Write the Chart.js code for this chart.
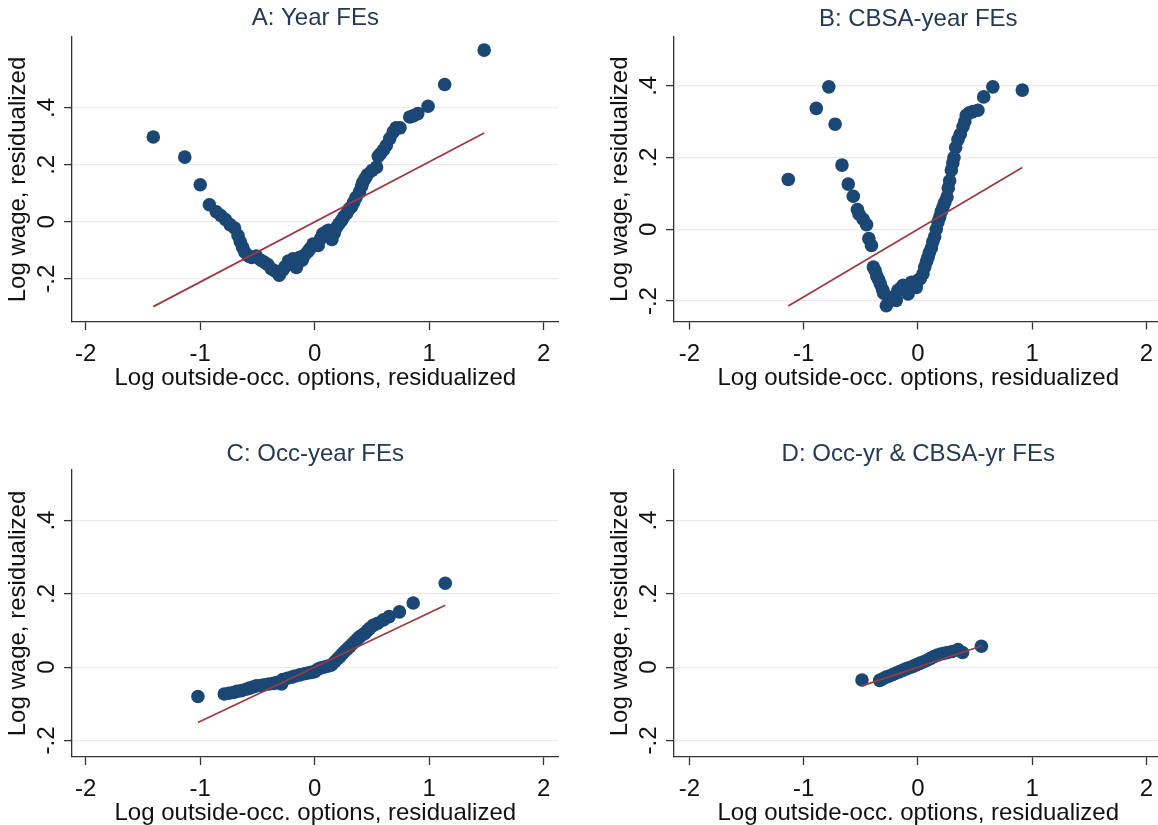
<!DOCTYPE html>
<html><head><meta charset="utf-8">
<script src="https://cdn.jsdelivr.net/npm/chart.js@4.4.1/dist/chart.umd.min.js"></script>
<style>
html,body{margin:0;padding:0;background:#fff;width:1158px;height:825px;overflow:hidden;position:relative}
canvas{position:absolute}
</style></head><body>
<canvas id="cA" width="600" height="405" style="left:0;top:0"></canvas>
<canvas id="cB" width="600" height="405" style="left:600px;top:0"></canvas>
<canvas id="cC" width="600" height="420" style="left:0;top:420px"></canvas>
<canvas id="cD" width="600" height="420" style="left:600px;top:420px"></canvas>
<script>
// ---- text ----
const panelTitles = ['A: Year FEs', 'B: CBSA-year FEs', 'C: Occ-year FEs', 'D: Occ-yr & CBSA-yr FEs'];
const xAxisTitle = 'Log outside-occ. options, residualized';
const yAxisTitle = 'Log wage, residualized';
const xTickValues = [-2, -1, 0, 1, 2];
const xTickLabels = ['-2', '-1', '0', '1', '2'];
const yTickValues = [-0.2, 0, 0.2, 0.4];
const yTickLabels = ['-.2', '0', '.2', '.4'];

// ---- Panel A: Year FEs ----
const aX = [-1.41,-1.135,-1.00,-0.92,-0.86,-0.82,-0.78,-0.74,-0.70,-0.67,-0.65,-0.63,-0.61,-0.58,-0.55,-0.51,-0.47,-0.44,-0.41,-0.38,-0.35,-0.31,-0.28,-0.26,-0.23,-0.21,-0.19,-0.16,-0.13,-0.11,-0.09,-0.06,-0.04,-0.015,0.03,0.05,0.07,0.10,0.12,0.15,0.17,0.19,0.21,0.235,0.255,0.28,0.30,0.32,0.34,0.36,0.39,0.41,0.42,0.44,0.46,0.50,0.54,0.555,0.575,0.60,0.625,0.655,0.685,0.71,0.745,0.83,0.86,0.90,0.99,1.135,1.48];
const aY = [0.298,0.227,0.130,0.060,0.035,0.022,0.008,-0.010,-0.022,-0.048,-0.070,-0.090,-0.107,-0.120,-0.125,-0.120,-0.135,-0.142,-0.150,-0.165,-0.172,-0.188,-0.170,-0.158,-0.138,-0.150,-0.130,-0.160,-0.125,-0.135,-0.118,-0.105,-0.094,-0.078,-0.083,-0.060,-0.042,-0.035,-0.030,-0.062,-0.040,-0.020,-0.008,0.005,0.018,0.030,0.045,0.052,0.068,0.085,0.104,0.125,0.138,0.152,0.165,0.180,0.192,0.230,0.240,0.252,0.268,0.292,0.315,0.330,0.330,0.368,0.372,0.380,0.406,0.482,0.603];
const aFitX = [-1.41, 1.48];
const aFitY = [-0.298, 0.312];

// ---- Panel B: CBSA-year FEs ----
const bX = [-1.135,-0.89,-0.78,-0.725,-0.665,-0.61,-0.566,-0.53,-0.515,-0.48,-0.45,-0.43,-0.407,-0.39,-0.375,-0.36,-0.345,-0.33,-0.31,-0.30,-0.277,-0.255,-0.233,-0.21,-0.19,-0.175,-0.155,-0.13,-0.11,-0.087,-0.07,-0.058,-0.035,-0.015,0.0,0.02,0.044,0.059,0.075,0.088,0.10,0.117,0.13,0.146,0.16,0.175,0.19,0.205,0.219,0.235,0.254,0.265,0.277,0.292,0.305,0.315,0.33,0.35,0.37,0.394,0.41,0.423,0.45,0.48,0.525,0.575,0.655,0.913];
const bY = [0.139,0.337,0.397,0.293,0.179,0.126,0.092,0.055,0.042,0.028,0.013,-0.026,-0.045,-0.105,-0.115,-0.130,-0.140,-0.152,-0.168,-0.178,-0.213,-0.200,-0.190,-0.195,-0.198,-0.170,-0.165,-0.156,-0.162,-0.180,-0.160,-0.148,-0.155,-0.162,-0.142,-0.138,-0.124,-0.105,-0.090,-0.078,-0.065,-0.052,-0.035,-0.021,0.0,0.020,0.034,0.050,0.062,0.075,0.090,0.115,0.135,0.165,0.185,0.200,0.228,0.250,0.265,0.286,0.300,0.318,0.325,0.328,0.332,0.369,0.397,0.388];
const bFitX = [-1.135, 0.913];
const bFitY = [-0.214, 0.172];

// ---- Panel C: Occ-year FEs ----
const cX = [-1.02,-0.79,-0.75,-0.71,-0.68,-0.64,-0.60,-0.57,-0.54,-0.51,-0.47,-0.44,-0.40,-0.36,-0.33,-0.29,-0.28,-0.24,-0.20,-0.17,-0.13,-0.09,-0.06,-0.03,0.0,0.02,0.044,0.07,0.10,0.125,0.146,0.175,0.20,0.22,0.24,0.26,0.285,0.306,0.33,0.35,0.37,0.39,0.415,0.44,0.46,0.48,0.51,0.55,0.60,0.65,0.74,0.86,1.14];
const cY = [-0.080,-0.073,-0.071,-0.069,-0.066,-0.064,-0.060,-0.057,-0.054,-0.051,-0.050,-0.048,-0.046,-0.044,-0.042,-0.046,-0.034,-0.030,-0.027,-0.024,-0.021,-0.018,-0.016,-0.014,-0.012,-0.007,-0.003,-0.001,0.002,0.004,0.006,0.015,0.023,0.029,0.036,0.043,0.050,0.056,0.064,0.070,0.076,0.082,0.088,0.093,0.100,0.106,0.114,0.120,0.129,0.138,0.151,0.175,0.229];
const cFitX = [-1.02, 1.14];
const cFitY = [-0.151, 0.169];

// ---- Panel D: Occ-yr & CBSA-yr FEs ----
const dX = [-0.49,-0.335,-0.31,-0.28,-0.25,-0.22,-0.19,-0.16,-0.13,-0.10,-0.07,-0.04,-0.01,0.02,0.05,0.08,0.11,0.14,0.17,0.20,0.23,0.26,0.30,0.35,0.39,0.555];
const dY = [-0.035,-0.036,-0.032,-0.027,-0.024,-0.020,-0.016,-0.012,-0.008,-0.004,-0.001,0.003,0.007,0.011,0.015,0.019,0.024,0.029,0.033,0.036,0.038,0.040,0.043,0.048,0.040,0.057];
const dFitX = [-0.49, 0.555];
const dFitY = [-0.051, 0.058];

// ---- style ----
const FONT = "'Liberation Sans', Arial, sans-serif";
const FS = 24;
const LH = FS * 1.2;
const markerColor = '#1b4774';
const fitColor = '#9a3a42';
const axisColor = '#333333';
const gridColor = '#e9ecee';
const titleColor = '#243a52';
const textColor = '#111111';

const zip = (xs, ys) => xs.map((x, i) => ({x, y: ys[i]}));

function panel(id, title, px, py, fx, fy, g) {
  const W = 600, H = g.H;
  new Chart(document.getElementById(id), {
    type: 'scatter',
    data: {
      datasets: [
        {data: zip(fx, fy), showLine: true, pointRadius: 0, borderColor: fitColor, borderWidth: 1.7, fill: false},
        {data: zip(px, py), pointRadius: 6.8, pointHoverRadius: 6.8, backgroundColor: markerColor, borderWidth: 0}
      ]
    },
    options: {
      responsive: false, animation: false, events: [],
      layout: {padding: {left: 0, top: 0, bottom: 0, right: W - g.right}},
      plugins: {legend: {display: false}, tooltip: {enabled: false}, title: {display: false}},
      scales: {
        x: {
          type: 'linear', position: 'bottom', min: g.xMin, max: g.xMax,
          afterBuildTicks: s => { s.ticks = xTickValues.map(v => ({value: v})); },
          afterFit: s => { s.height = H - g.bottom; },
          grid: {display: true, drawOnChartArea: false, drawTicks: true, tickLength: 8, tickColor: axisColor, tickWidth: 1.3},
          border: {display: true, color: axisColor, width: 1.3},
          ticks: {autoSkip: false, maxRotation: 0, minRotation: 0, padding: 10, color: textColor,
                  font: {family: FONT, size: FS},
                  callback: v => xTickLabels[xTickValues.indexOf(v)]},
          title: {display: true, text: xAxisTitle, color: textColor, font: {family: FONT, size: FS},
                  padding: {top: 0, bottom: H - LH / 2 - g.xTitleY}}
        },
        xt: {
          type: 'linear', axis: 'x', position: 'top', min: 0, max: 1,
          afterFit: s => { s.height = g.top; },
          grid: {display: false}, border: {display: false}, ticks: {display: false},
          title: {display: true, text: title, color: titleColor, font: {family: FONT, size: FS},
                  padding: {top: g.titleY - LH / 2, bottom: 0}}
        },
        y: {
          type: 'linear', position: 'left', min: g.yMin, max: g.yMax,
          afterBuildTicks: s => { s.ticks = yTickValues.map(v => ({value: v})); },
          afterFit: s => { s.width = g.left; },
          grid: {display: true, drawOnChartArea: true, color: gridColor, lineWidth: 1.2, drawTicks: true, tickLength: 8, tickColor: axisColor, tickWidth: 1.3},
          border: {display: true, color: axisColor, width: 1.3},
          ticks: {autoSkip: false, minRotation: 90, maxRotation: 90, crossAlign: 'center', padding: 3, color: textColor,
                  font: {family: FONT, size: FS},
                  callback: v => yTickLabels[yTickValues.findIndex(t => Math.abs(t - v) < 1e-9)]},
          title: {display: true, text: yAxisTitle, color: textColor, font: {family: FONT, size: FS},
                  padding: {top: g.left - 53.5 - LH / 2, bottom: 0}}
        }
      }
    }
  });
}

panel('cA', panelTitles[0], aX, aY, aFitX, aFitY,
  {H: 405, left: 72, right: 558.6, top: 37, bottom: 322, xMin: -2.12, xMax: 2.13, yMin: -0.352, yMax: 0.649, titleY: 18, xTitleY: 378});
panel('cB', panelTitles[1], bX, bY, bFitX, bFitY,
  {H: 405, left: 74, right: 562.5, top: 37, bottom: 321.5, xMin: -2.135, xMax: 2.14, yMin: -0.257, yMax: 0.536, titleY: 19, xTitleY: 378});
panel('cC', panelTitles[2], cX, cY, cFitX, cFitY,
  {H: 420, left: 72, right: 558.6, top: 50, bottom: 337, xMin: -2.12, xMax: 2.13, yMin: -0.245, yMax: 0.538, titleY: 34, xTitleY: 393});
panel('cD', panelTitles[3], dX, dY, dFitX, dFitY,
  {H: 420, left: 74, right: 562.5, top: 50, bottom: 337, xMin: -2.135, xMax: 2.14, yMin: -0.245, yMax: 0.538, titleY: 34, xTitleY: 393});
</script>
</body></html>
